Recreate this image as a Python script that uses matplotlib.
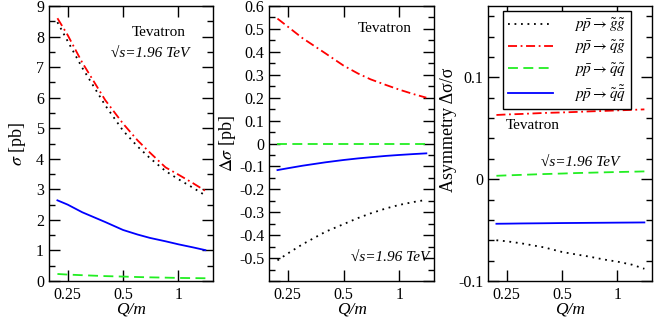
import matplotlib
matplotlib.use("Agg")
import matplotlib.pyplot as plt
from matplotlib.ticker import FixedLocator, FixedFormatter, MultipleLocator, NullLocator

plt.rcParams['font.family'] = ['Liberation Serif', 'DejaVu Serif']
plt.rcParams['mathtext.fontset'] = 'stix'
plt.rcParams['font.size'] = 11

# Q/m values
q = [0.22, 0.25, 0.3, 0.4, 0.5, 0.6, 0.7, 0.85, 1.0, 1.2, 1.4]

# Panel 1: sigma [pb]
sig_gg = [8.47, 7.85, 6.98, 5.75, 4.92, 4.40, 4.02, 3.60, 3.33, 3.05, 2.80]
sig_qg = [8.60, 8.05, 7.15, 5.92, 5.15, 4.60, 4.20, 3.72, 3.48, 3.20, 2.95]
sig_qq = [0.23, 0.21, 0.19, 0.16, 0.145, 0.13, 0.12, 0.11, 0.10, 0.095, 0.09]
sig_qqb = [2.64, 2.50, 2.25, 1.93, 1.67, 1.52, 1.41, 1.30, 1.20, 1.10, 1.01]

# Panel 2: delta sigma [pb]
dsig_gg = [-0.51, -0.48, -0.44, -0.385, -0.352, -0.325, -0.305, -0.283, -0.268, -0.255, -0.246]
dsig_qg = [0.545, 0.51, 0.46, 0.393, 0.34, 0.305, 0.28, 0.255, 0.235, 0.215, 0.20]
dsig_qq = [0.0, 0.0, 0.0, 0.0, 0.0, 0.0, 0.0, 0.0, 0.0, 0.0, 0.0]
dsig_qqb = [-0.116, -0.108, -0.097, -0.082, -0.072, -0.065, -0.060, -0.054, -0.050, -0.046, -0.043]

# Panel 3: asymmetry
asy_gg = [-0.060, -0.061, -0.063, -0.067, -0.0715, -0.074, -0.076, -0.079, -0.081, -0.084, -0.088]
asy_qg = [0.063, 0.0635, 0.064, 0.065, 0.0655, 0.066, 0.0665, 0.067, 0.0675, 0.068, 0.0685]
asy_qq = [0.0033, 0.0037, 0.0042, 0.005, 0.0055, 0.006, 0.0063, 0.0067, 0.007, 0.0073, 0.0076]
asy_qqb = [-0.0438, -0.0437, -0.0435, -0.0433, -0.0431, -0.043, -0.0429, -0.0428, -0.0427, -0.0426, -0.0425]

labels = [r'$p\bar{p}\rightarrow\tilde{g}\tilde{g}$',
          r'$p\bar{p}\rightarrow\tilde{q}\tilde{g}$',
          r'$p\bar{p}\rightarrow\tilde{q}\tilde{q}$',
          r'$p\bar{p}\rightarrow\tilde{q}\tilde{\bar{q}}$']

xticks = [0.25, 0.5, 1]
xticklabels = ['0.25', '0.5', '1']

styles = [
    dict(color='black', linestyle=(0, (1, 2.6)), linewidth=1.3),
    dict(color='#ff0000', linestyle=(0, (5, 2, 1, 2)), linewidth=1.3),
    dict(color='#22ee22', linestyle=(0, (5.5, 3)), linewidth=1.3),
    dict(color='#0000ff', linestyle='-', linewidth=1.3),
]

W, H = 654, 317
fig = plt.figure(figsize=(W / 100, H / 100), dpi=100)

def rect(l, r, t=6, b=281):
    return [l / W, 1 - b / H, (r - l) / W, (b - t) / H]

ax1 = fig.add_axes(rect(49, 213))
ax2 = fig.add_axes(rect(269, 434))
ax3 = fig.add_axes(rect(488, 652))

TICK_FS = 11.5
LAB_FS = 13
TXT_FS = 11

def style_axis(ax):
    ax.set_xscale('log')
    ax.set_xlim(0.198, 1.54)
    ax.xaxis.set_major_locator(FixedLocator(xticks))
    ax.xaxis.set_major_formatter(FixedFormatter(xticklabels))
    ax.xaxis.set_minor_locator(NullLocator())
    ax.tick_params(which='both', direction='in', top=True, right=True, labelsize=TICK_FS, width=1.0)
    ax.tick_params(which='major', length=8)
    ax.tick_params(which='minor', length=4)
    ax.tick_params(axis='x', which='major', pad=4)
    for s in ax.spines.values():
        s.set_linewidth(1.0)
    ax.set_xlabel('Q/m', fontstyle='italic', fontsize=12.5, labelpad=-1)

for ax, ys in [(ax1, [sig_gg, sig_qg, sig_qq, sig_qqb]),
               (ax2, [dsig_gg, dsig_qg, dsig_qq, dsig_qqb]),
               (ax3, [asy_gg, asy_qg, asy_qq, asy_qqb])]:
    for y, st, lab in zip(ys, styles, labels):
        ax.plot(q, y, label=lab, **st)
    style_axis(ax)

# Panel 1
ax1.set_ylim(0, 9)
ax1.set_yticks(range(0, 10))
ax1.set_yticklabels([str(i) for i in range(0, 10)])
ax1.yaxis.set_minor_locator(MultipleLocator(0.5))
ax1.set_ylabel(r'$\sigma$ [pb]', fontsize=LAB_FS, labelpad=6)
ax1.text(0.67, 0.902, 'Tevatron', transform=ax1.transAxes, ha='center', va='center', fontsize=TXT_FS)
ax1.text(0.62, 0.829, '√s=1.96 TeV', transform=ax1.transAxes, ha='center', va='center',
         fontsize=TXT_FS, fontstyle='italic')

# Panel 2
y2t = [-0.6, -0.5, -0.4, -0.3, -0.2, -0.1, 0.0, 0.1, 0.2, 0.3, 0.4, 0.5, 0.6]
y2l = ['', '-0.5', '-0.4', '-0.3', '-0.2', '-0.1', '0', '0.1', '0.2', '0.3', '0.4', '0.5', '0.6']
ax2.set_ylim(-0.6, 0.6)
ax2.set_yticks(y2t)
ax2.set_yticklabels(y2l)
ax2.yaxis.set_minor_locator(MultipleLocator(0.05))
ax2.set_ylabel(r'$\mathit{\Delta\sigma}$ [pb]', fontsize=LAB_FS, labelpad=1)
ax2.text(0.70, 0.92, 'Tevatron', transform=ax2.transAxes, ha='center', va='center', fontsize=TXT_FS)
ax2.text(0.97, 0.087, '√s=1.96 TeV', transform=ax2.transAxes, ha='right', va='center',
         fontsize=TXT_FS, fontstyle='italic')

# Panel 3
ax3.set_ylim(-0.1, 0.17)
ax3.set_yticks([-0.1, 0.0, 0.1])
ax3.set_yticklabels(['-0.1', '0', '0.1'])
ax3.yaxis.set_minor_locator(MultipleLocator(0.02))
ax3.set_ylabel('Asymmetry Δσ/σ', fontsize=LAB_FS, labelpad=4)
ax3.yaxis.set_label_coords(-0.19, 0.55)
ax3.text(0.275, 0.564, 'Tevatron', transform=ax3.transAxes, ha='center', va='center', fontsize=TXT_FS)
ax3.text(0.56, 0.433, '√s=1.96 TeV', transform=ax3.transAxes, ha='center', va='center',
         fontsize=TXT_FS, fontstyle='italic')

leg = ax3.legend(loc='upper left', bbox_to_anchor=((503 - 488) / 164, 1 - (11 - 6) / 275),
                 frameon=True, fancybox=False, edgecolor='black', framealpha=1,
                 handlelength=2.9, handletextpad=1.4, borderpad=0.35, labelspacing=0.3,
                 fontsize=11, borderaxespad=0)
leg.get_frame().set_linewidth(1.0)

fig.savefig('out.png', dpi=100)
